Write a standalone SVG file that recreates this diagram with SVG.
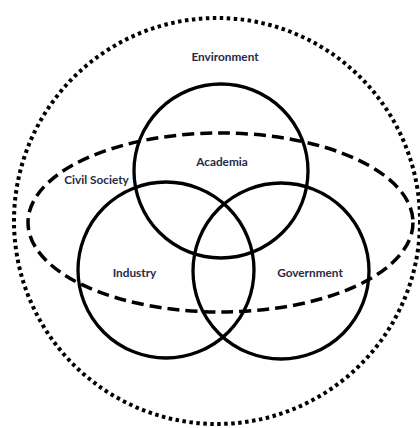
<svg xmlns="http://www.w3.org/2000/svg" width="420" height="428" viewBox="0 0 420 428">
<style>
.c{fill:none;stroke:#000;stroke-width:3.3}
.env{fill:none;stroke:#000;stroke-width:4;stroke-dasharray:3.5 3.5}
.cs{fill:none;stroke:#000;stroke-width:3.5;stroke-dasharray:12 6}
text{font-family:"Lato","Liberation Sans",sans-serif;font-weight:bold;font-size:11.8px;fill:#262a45;text-anchor:middle}
</style>
<rect width="420" height="428" fill="#fff"/>
<g id="environment">
<circle class="env" cx="217" cy="221" r="203"/>
<text x="225" y="61">Environment</text>
</g>
<g id="civil-society">
<ellipse class="cs" cx="220.5" cy="222.5" rx="192.5" ry="89.5"/>
<text x="96.5" y="184">Civil Society</text>
</g>
<g id="academia">
<circle class="c" cx="221" cy="171" r="87"/>
<text x="222" y="166">Academia</text>
</g>
<g id="industry">
<circle class="c" cx="166" cy="270" r="88"/>
<text x="134.5" y="277">Industry</text>
</g>
<g id="government">
<circle class="c" cx="281" cy="271" r="88"/>
<text x="310" y="277">Government</text>
</g>
<g id="connectors"></g>
</svg>
